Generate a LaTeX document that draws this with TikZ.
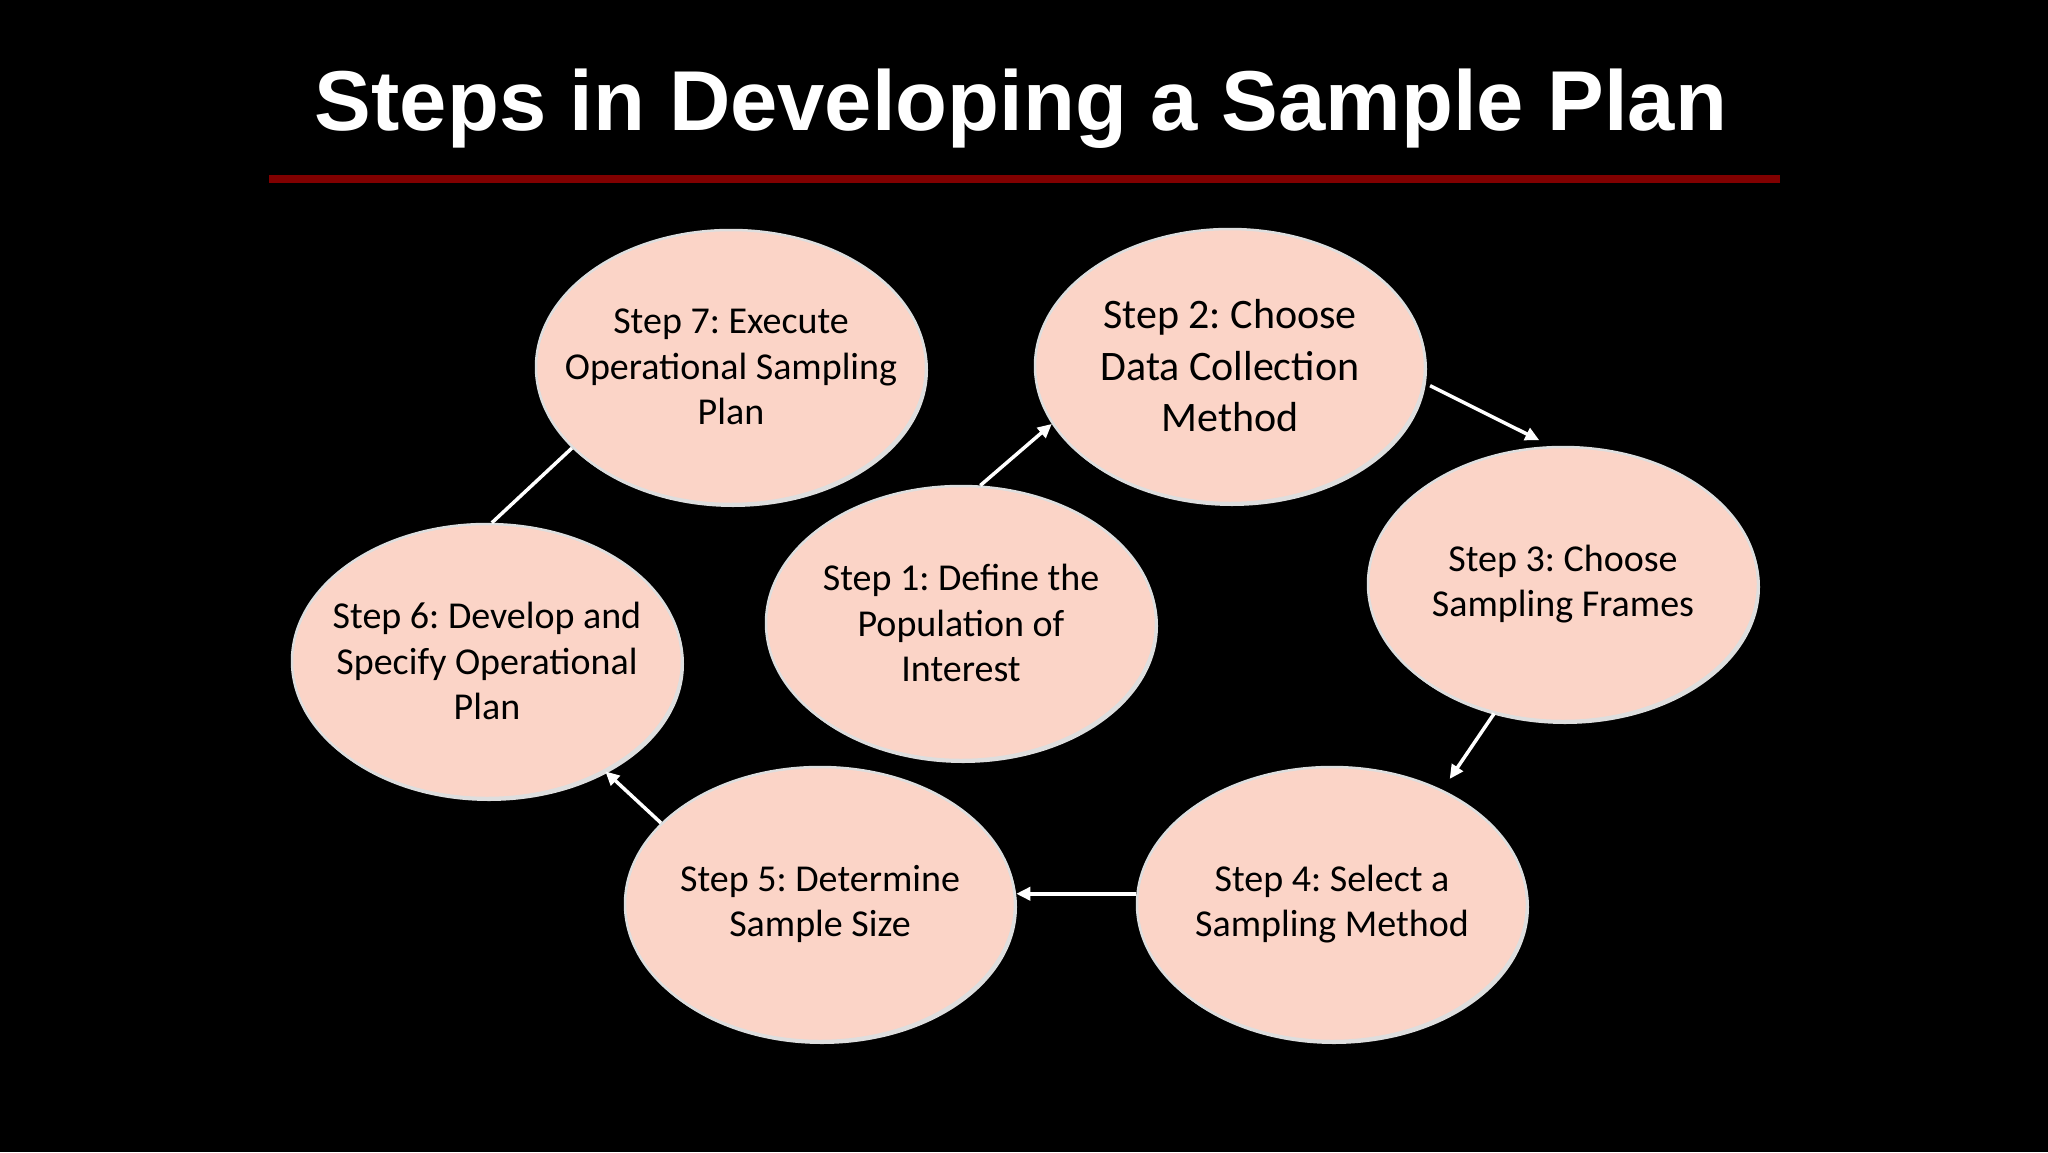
\documentclass[tikz,border=0pt]{standalone}
\usepackage{fontspec}
\setmainfont{Carlito}
\newfontfamily\titlefont{Liberation Sans}
\usetikzlibrary{shapes.geometric,arrows.meta,shadows}
\definecolor{peach}{RGB}{251,212,199}
\definecolor{rim}{RGB}{222,222,222}
\definecolor{titlered}{RGB}{128,0,0}
\frenchspacing
\tikzset{
  stepbubble/.style={ellipse, minimum width=390pt, minimum height=274pt, inner sep=0pt,
    fill=peach, draw=rim, line width=2.5pt,
    drop shadow={shadow xshift=2pt, shadow yshift=-3pt, fill=rim, opacity=1}},
  steptext/.style={align=center, text=black, inner sep=0pt,
    font=\fontsize{38}{45.6}\selectfont},
  bigsteptext/.style={steptext, font=\fontsize{42}{51.5}\selectfont},
  flow/.style={draw=white, line width=3.5pt, -{Triangle[length=14pt,width=13pt]}},
  plainlink/.style={draw=white, line width=3.5pt}
}
\begin{document}
\begin{tikzpicture}[x=1pt,y=-1pt]
\useasboundingbox (0,0) rectangle (2048,1152);
\fill[black] (0,0) rectangle (2048,1152);
\node[anchor=base, text=white, font=\titlefont\bfseries\fontsize{85}{100}\selectfont] (title) at (1021,130) {Steps in Developing a Sample Plan};
\draw[titlered, line width=8pt] (269,179) -- (1780,179);

\node[stepbubble, label={[steptext]center:Step 7: Execute\\Operational Sampling\\Plan}] (s7) at (731,367) {};
\node[stepbubble, label={[bigsteptext]center:Step 2: Choose\\Data Collection\\Method}] (s2) at (1230,366) {};
\node[stepbubble, label={[steptext]center:Step 1: Define the\\Population of\\Interest}] (s1) at (961,623) {};
\node[stepbubble, label={[steptext]center:Step 3: Choose\\Sampling Frames}] (s3) at (1563,584) {};
\node[stepbubble, label={[steptext]center:Step 6: Develop and\\Specify Operational\\Plan}] (s6) at (487,661) {};
\node[stepbubble, label={[steptext]center:Step 5: Determine\\Sample Size}] (s5) at (820,904) {};
\node[stepbubble, label={[steptext]center:Step 4: Select a\\Sampling Method}] (s4) at (1332,904) {};

\draw[flow] (s1.82.9) -- (s2.198.8);
\draw[flow, shorten <=6pt, shorten >=13pt] (s2.355.7) -- (s3.95.3);
\draw[flow, shorten >=13pt] (s3.242.9) -- (s4.46.9);
\draw[flow] (s4.177.6) -- (s4.177.6 -| s5.east);
\draw[flow] (s5.153.7) -- (s6.317.2);
\draw[plainlink] (s6.88.3) -- (s7.207.6);
\end{tikzpicture}
\end{document}
